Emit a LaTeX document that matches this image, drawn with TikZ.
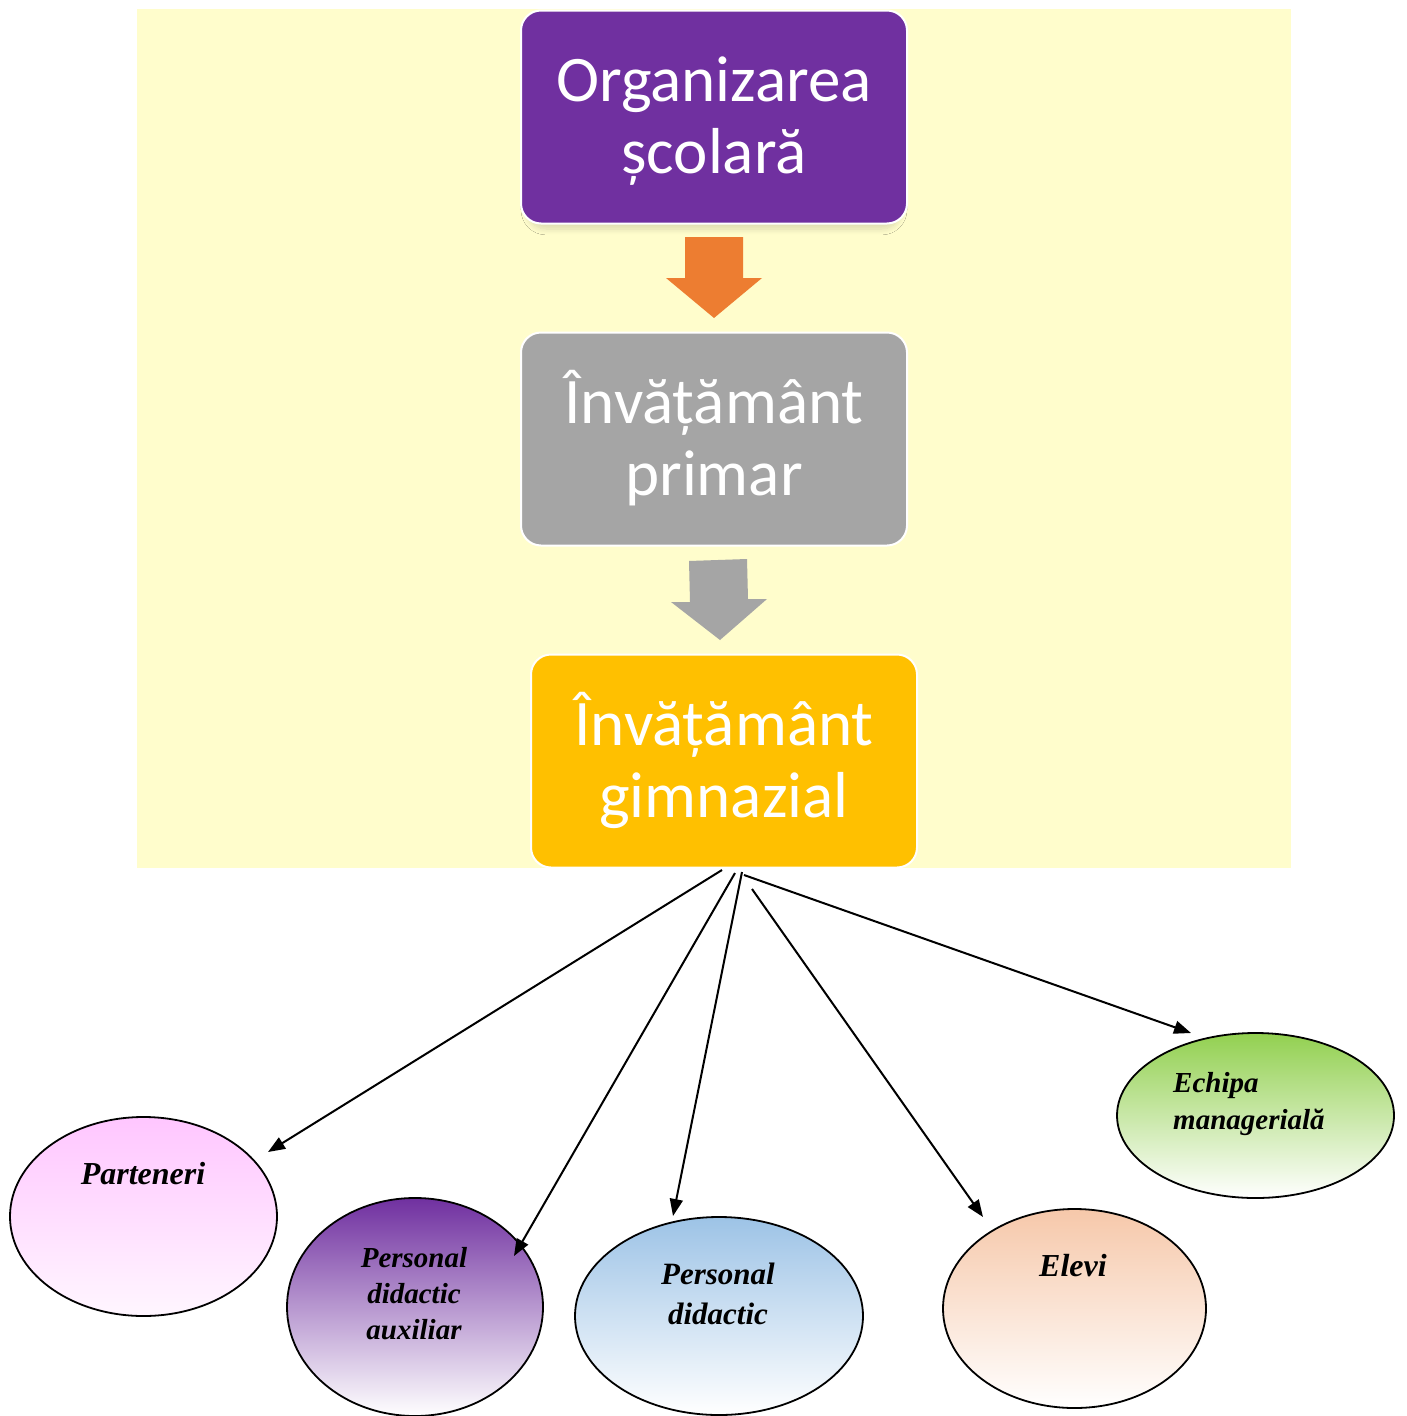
\documentclass[tikz,border=0pt]{standalone}
\usepackage{fontspec}
\setmainfont{Liberation Serif}
\newfontfamily\boxfont{Carlito}
\usetikzlibrary{arrows.meta,shapes.geometric,shadows.blur}
\definecolor{bgyellow}{RGB}{255,253,204}
\definecolor{purp}{RGB}{112,48,160}
\definecolor{grayb}{RGB}{165,165,165}
\definecolor{goldb}{RGB}{255,192,0}
\definecolor{orangea}{RGB}{237,125,49}
\definecolor{pinkt}{RGB}{255,198,255}
\definecolor{pinkb}{RGB}{255,246,255}
\definecolor{bluet}{RGB}{157,195,230}
\definecolor{peacht}{RGB}{246,200,170}
\definecolor{greent}{RGB}{146,208,80}
\newcommand{\topline}{\rule{0pt}{56pt}}
\newcommand{\botline}{\rule[-16pt]{0pt}{16pt}}
\begin{document}
\begin{tikzpicture}[x=1pt,y=-1pt,
  stagebox/.style={draw=white, line width=2pt, rounded corners=20pt, minimum width=386pt, minimum height=213pt, inner sep=0pt, text=white, font=\boxfont\fontsize{65}{72}\selectfont, align=center},
  oval/.style={ellipse, draw=black, line width=1.8pt, inner sep=0pt},
  lbl/.style={font=\bfseries\itshape\fontsize{30}{37}\selectfont, align=center, text=black, inner sep=0pt},
  link/.style={line width=2pt, -{Triangle[length=17pt,width=13pt]}}
]
\useasboundingbox (0,0) rectangle (1407,1416);
\fill[bgyellow] (137,9) rectangle (1291,868);

% stage boxes
\node[stagebox, fill=purp, blur shadow={shadow xshift=0pt, shadow yshift=-9pt, shadow scale=0.97, shadow opacity=14, shadow blur radius=6pt, shadow blur steps=10}] (b1) at (714,117) {\topline Organizarea\\școlară\botline};
\node[stagebox, fill=grayb] (b2) at (714,439) {\topline Învățământ\\primar\botline};
\node[stagebox, fill=goldb] (b3) at (724,761) {\topline Învățământ\\gimnazial\botline};

% block arrows
\fill[orangea] (685,237) -- (743,237) -- (743,278) -- (762,278) -- (714,318) -- (666,278) -- (685,278) -- cycle;
\fill[grayb] (689,561) -- (747,559) -- (748,599) -- (767,599) -- (720,640) -- (671,602) -- (690,602) -- cycle;

% ellipses
\node[oval, minimum width=267pt, minimum height=199pt, top color=pinkt, bottom color=pinkb] (eP) at (143.5,1216.5) {};
\node[oval, minimum width=256pt, minimum height=218pt, top color=purp, bottom color=white] (eA) at (415,1307) {};
\node[oval, minimum width=288pt, minimum height=198pt, top color=bluet, bottom color=white] (eD) at (719,1316) {};
\node[oval, minimum width=263pt, minimum height=199pt, top color=peacht, bottom color=white] (eE) at (1074.5,1308.5) {};
\node[oval, minimum width=277pt, minimum height=165pt, top color=greent, bottom color=white] (eM) at (1255.5,1115.5) {};

% labels
\node[lbl, font=\bfseries\itshape\fontsize{32}{37}\selectfont] (tP) at (143,1174) {Parteneri};
\node[lbl, font=\bfseries\itshape\fontsize{29}{36}\selectfont] (tA) at (414,1294) {Personal\\didactic\\auxiliar};
\node[lbl, font=\bfseries\itshape\fontsize{31}{40}\selectfont] (tD) at (718,1294) {Personal\\didactic};
\node[lbl, font=\bfseries\itshape\fontsize{32}{37}\selectfont] (tE) at (1073,1266) {Elevi};
\node[lbl, align=left, anchor=west, font=\bfseries\itshape\fontsize{29}{37}\selectfont] (tM) at (1173,1104) {Echipa\\managerială};

% connector ends
\coordinate (s1) at (722,870);
\coordinate (s2) at (735,873);
\coordinate (s3) at (742,872);
\coordinate (s4) at (752,889);
\coordinate (s5) at (744,875);
\coordinate (p1) at (268,1152);
\coordinate (p2) at (514,1256);
\coordinate (p3) at (673,1216);
\coordinate (p4) at (983,1217);
\coordinate (p5) at (1191,1033);

\draw[link] (s1) -- (p1);
\draw[link] (s2) -- (p2);
\draw[link] (s3) -- (p3);
\draw[link] (s4) -- (p4);
\draw[link] (s5) -- (p5);
\end{tikzpicture}
\end{document}
